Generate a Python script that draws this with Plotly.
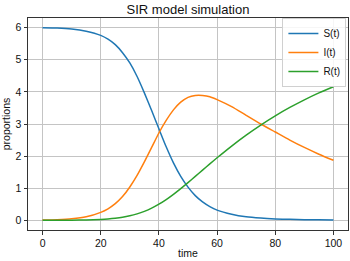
import plotly.graph_objects as go

# Data
t = [0, 5, 10, 15, 20, 22.5, 25, 27.5, 30, 32.5, 35, 37.5, 40, 42.5, 45, 47.5,
     50, 52.5, 55, 57.5, 60, 65, 70, 75, 80, 85, 90, 95, 100]
S = [6.00, 5.99, 5.96, 5.89, 5.76, 5.64, 5.47, 5.22, 4.90, 4.48, 3.97, 3.42,
     2.85, 2.29, 1.79, 1.37, 1.035, 0.77, 0.575, 0.43, 0.32, 0.19, 0.11, 0.07,
     0.045, 0.031, 0.022, 0.016, 0.012]
I = [0.01, 0.022, 0.049, 0.11, 0.25, 0.36, 0.52, 0.74, 1.04, 1.40, 1.82, 2.27,
     2.72, 3.11, 3.44, 3.68, 3.83, 3.89, 3.89, 3.85, 3.76, 3.54, 3.27, 3.00,
     2.75, 2.50, 2.27, 2.06, 1.87]
R = [0.0, 0.0015, 0.005, 0.012, 0.03, 0.045, 0.067, 0.098, 0.142, 0.202, 0.281,
     0.381, 0.504, 0.649, 0.812, 0.990, 1.177, 1.370, 1.565, 1.759, 1.949, 2.314,
     2.654, 2.967, 3.254, 3.515, 3.753, 3.969, 4.160]
series_names = ["S(t)", "I(t)", "R(t)"]
colors = ["#1f77b4", "#ff7f0e", "#2ca02c"]
x_ticks = [0, 20, 40, 60, 80, 100]
y_ticks = [0, 1, 2, 3, 4, 5, 6]

FONT = "Liberation Sans, Arial, sans-serif"

fig = go.Figure()
for name, ys, c in zip(series_names, [S, I, R], colors):
    fig.add_trace(go.Scatter(x=t, y=ys, mode="lines", name=name,
                             line=dict(color=c, width=1.5, shape="spline", smoothing=0.6)))

axis_common = dict(showline=True, mirror=True, linecolor="#333333", linewidth=1,
                   ticks="outside", ticklen=3.5, tickwidth=1, tickcolor="#333333",
                   showgrid=True, gridcolor="#c4c4c4", gridwidth=1, zeroline=False,
                   tickfont=dict(family=FONT, size=10.5, color="#111111"))

fig.update_layout(
    width=350, height=261,
    margin=dict(l=28, r=2, t=18, b=31),
    paper_bgcolor="white", plot_bgcolor="white",
    title=dict(text="SIR model simulation", x=0.5, xanchor="center",
               xref="paper", y=0.962, yanchor="middle",
               font=dict(family=FONT, size=13, color="#111111")),
    xaxis=dict(range=[-5, 105], tickvals=x_ticks,
               title=dict(text="time", standoff=1,
                          font=dict(family=FONT, size=10.5, color="#111111")),
               **axis_common),
    yaxis=dict(range=[-0.3, 6.3], tickvals=y_ticks,
               title=dict(text="proportions", standoff=5,
                          font=dict(family=FONT, size=10.5, color="#111111")),
               **axis_common),
    legend=dict(x=0.995, y=1.0, xanchor="right", yanchor="top",
                bgcolor="rgba(255,255,255,0.85)", bordercolor="#d0d0d0", borderwidth=1,
                font=dict(family=FONT, size=10, color="#111111"),
                tracegroupgap=0, itemwidth=30),
    showlegend=True,
)

fig.write_html("out.html", config={"displayModeBar": False},
               post_script="document.body.style.margin='0';")
